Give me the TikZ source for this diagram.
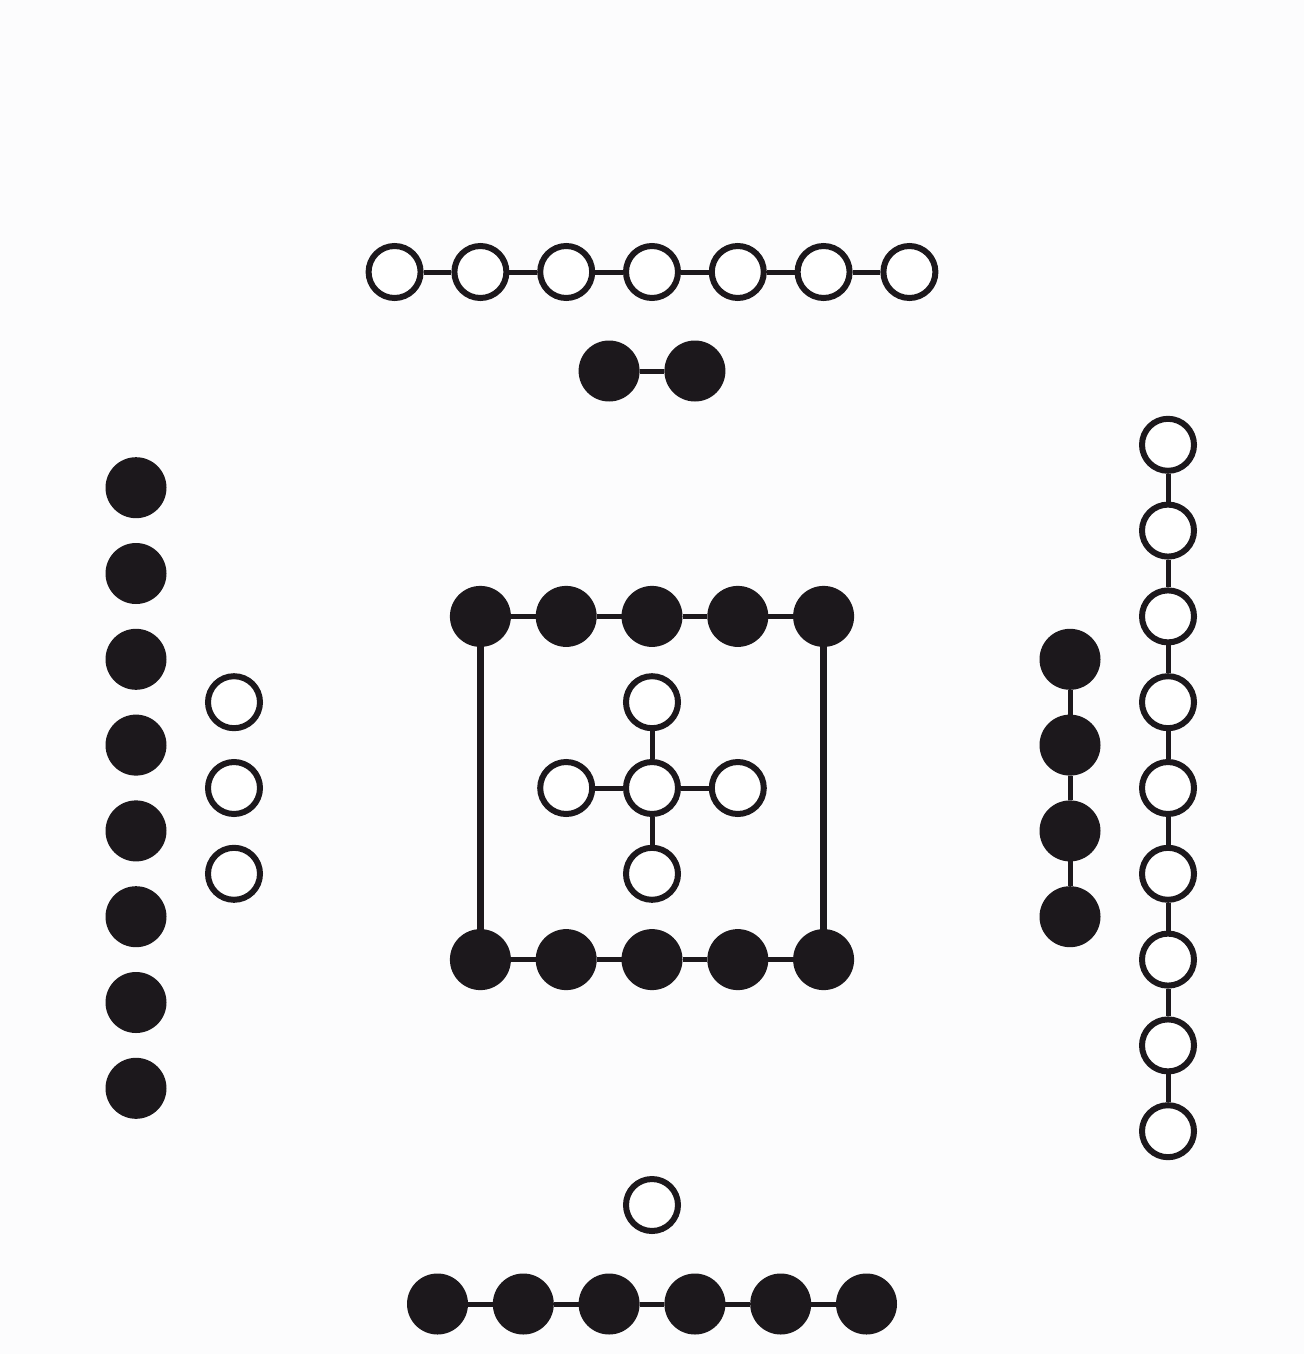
\documentclass[tikz,border=0pt]{standalone}
\begin{document}
\begin{tikzpicture}[x=1pt,y=-1pt,
  yin/.style={circle,fill=ink,draw=none,minimum size=61pt,inner sep=0pt,outer sep=0pt},
  yang/.style={circle,draw=ink,line width=6pt,fill=white,minimum size=52pt,inner sep=0pt},
  link/.style={draw=ink,line width=5pt},
  frame/.style={draw=ink,line width=7pt}]
\definecolor{ink}{RGB}{28,24,28}
\definecolor{paper}{RGB}{252,252,253}
\fill[paper] (0,0) rectangle (1304,1354);
\useasboundingbox (0,0) rectangle (1304,1354);
\def\g{85.8}
% top: 7 white
\foreach \i in {1,...,7} \node[yang] (t\i) at ({652+(\i-4)*\g},272) {};
\foreach \i [evaluate=\i as \j using int(\i+1)] in {1,...,6} \draw[link] (t\i) -- (t\j);
% 2 black
\node[yin] (p1) at ({652-0.5*\g},371) {};
\node[yin] (p2) at ({652+0.5*\g},371) {};
\draw[link] (p1) -- (p2);
% left 8 black
\foreach \i in {1,...,8} \node[yin] (l\i) at (136,{788+(\i-4.5)*\g}) {};
% left 3 white
\foreach \i in {1,...,3} \node[yang] (w\i) at (234,{788+(\i-2)*\g}) {};
% square
\draw[frame] (652-2*\g,788-2*\g) -- (652-2*\g,788+2*\g);
\draw[frame] (652+2*\g,788-2*\g) -- (652+2*\g,788+2*\g);
\foreach \i in {1,...,5} {
  \node[yin] (a\i) at ({652+(\i-3)*\g},{788-2*\g}) {};
  \node[yin] (b\i) at ({652+(\i-3)*\g},{788+2*\g}) {};
}
\foreach \i [evaluate=\i as \j using int(\i+1)] in {1,...,4} {
  \draw[link] (a\i) -- (a\j);
  \draw[link] (b\i) -- (b\j);
}
% cross
\node[yang] (c0) at (652,788) {};
\node[yang] (cN) at (652,{788-\g}) {};
\node[yang] (cS) at (652,{788+\g}) {};
\node[yang] (cW) at ({652-\g},788) {};
\node[yang] (cE) at ({652+\g},788) {};
\draw[link] (c0) -- (cN);
\draw[link] (c0) -- (cS);
\draw[link] (c0) -- (cW);
\draw[link] (c0) -- (cE);
% right 4 black
\foreach \i in {1,...,4} \node[yin] (r\i) at (1070,{788+(\i-2.5)*\g}) {};
\foreach \i [evaluate=\i as \j using int(\i+1)] in {1,...,3} \draw[link] (r\i) -- (r\j);
% right 9 white
\foreach \i in {1,...,9} \node[yang] (s\i) at (1168,{788+(\i-5)*\g}) {};
\foreach \i [evaluate=\i as \j using int(\i+1)] in {1,...,8} \draw[link] (s\i) -- (s\j);
% bottom white
\node[yang] (u1) at (652,1205) {};
% bottom 6 black
\foreach \i in {1,...,6} \node[yin] (d\i) at ({652+(\i-3.5)*\g},1304) {};
\foreach \i [evaluate=\i as \j using int(\i+1)] in {1,...,5} \draw[link] (d\i) -- (d\j);
\end{tikzpicture}
\end{document}
